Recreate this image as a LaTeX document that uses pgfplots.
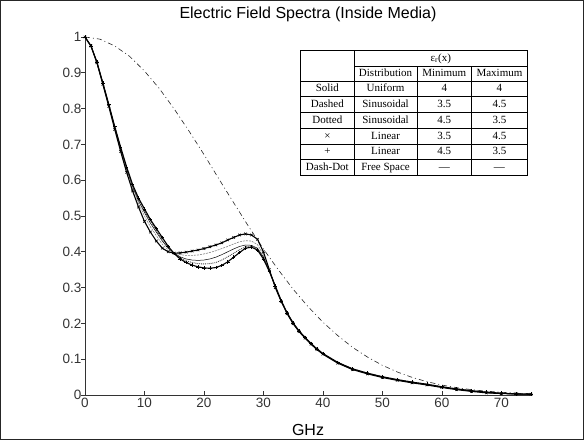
\documentclass[border=0pt]{standalone}
\usepackage{pgfplots}
\pgfplotsset{compat=1.18}
\usepackage{pgfplotstable}
\usepackage{fontspec}
\usepackage{array}
\setmainfont{Liberation Sans}
\newfontfamily\tablefont{Liberation Serif}

\pgfplotstableread{
x p c d s o
0 1.000 1.000 1.000 1.000 1.000
1 0.975 0.975 0.975 0.975 0.975
2 0.930 0.928 0.929 0.930 0.930
3 0.872 0.868 0.870 0.871 0.871
4 0.812 0.806 0.809 0.810 0.811
5 0.750 0.742 0.746 0.748 0.749
6 0.692 0.680 0.686 0.688 0.690
7 0.637 0.622 0.629 0.632 0.635
8 0.588 0.570 0.577 0.582 0.585
9 0.550 0.525 0.535 0.542 0.546
10 0.520 0.485 0.500 0.510 0.515
11 0.490 0.455 0.470 0.480 0.485
12 0.465 0.430 0.445 0.455 0.460
13 0.440 0.410 0.421 0.430 0.435
14 0.415 0.400 0.405 0.410 0.412
15 0.395 0.396 0.396 0.396 0.396
16 0.380 0.397 0.392 0.386 0.383
17 0.370 0.399 0.390 0.380 0.375
18 0.363 0.402 0.390 0.377 0.370
19 0.358 0.405 0.391 0.376 0.367
20 0.355 0.409 0.394 0.377 0.366
21 0.354 0.414 0.398 0.380 0.367
22 0.356 0.419 0.403 0.385 0.370
23 0.362 0.425 0.409 0.392 0.377
24 0.372 0.433 0.415 0.400 0.386
25 0.385 0.440 0.422 0.408 0.396
26 0.398 0.447 0.428 0.415 0.406
27 0.410 0.450 0.431 0.419 0.414
28 0.413 0.447 0.430 0.418 0.416
29 0.405 0.435 0.420 0.410 0.408
30 0.380 0.400 0.392 0.386 0.383
31 0.345 0.350 0.348 0.347 0.346
32 0.305 0.300 0.302 0.303 0.304
33 0.263 0.261 0.262 0.262 0.263
34 0.229 0.227 0.228 0.228 0.229
35 0.201 0.199 0.200 0.200 0.201
36 0.179 0.177 0.178 0.178 0.179
37 0.161 0.159 0.160 0.160 0.161
38 0.144 0.142 0.143 0.143 0.144
39 0.129 0.127 0.128 0.128 0.129
40 0.116 0.114 0.115 0.115 0.116
42.5 0.091 0.089 0.090 0.090 0.091
45 0.073 0.071 0.072 0.072 0.073
47.5 0.061 0.059 0.060 0.060 0.061
50 0.051 0.049 0.050 0.050 0.051
52.5 0.043 0.041 0.042 0.042 0.043
55 0.036 0.034 0.035 0.035 0.036
57.5 0.030 0.028 0.029 0.029 0.030
60 0.023 0.021 0.022 0.022 0.023
62.5 0.017 0.015 0.016 0.016 0.017
65 0.012 0.010 0.011 0.011 0.012
67.5 0.008 0.006 0.007 0.007 0.008
70 0.005 0.004 0.004 0.004 0.005
72.5 0.003 0.003 0.003 0.003 0.003
75 0.002 0.002 0.002 0.002 0.002
}\media

\pgfplotstableread{
x y
0 1.000
2.5 0.994
5 0.975
7.5 0.946
10 0.905
12.5 0.856
15 0.799
17.5 0.737
20 0.672
22.5 0.604
25 0.537
27.5 0.471
30 0.408
32.5 0.350
35 0.2955
37.5 0.247
40 0.2035
42.5 0.166
45 0.133
47.5 0.106
50 0.083
52.5 0.0644
55 0.0493
57.5 0.0372
60 0.0278
62.5 0.0205
65 0.0149
67.5 0.0107
70 0.0076
72.5 0.0053
75 0.0037
}\freespace

\begin{document}
\begin{tikzpicture}
\useasboundingbox (-85pt,-46pt) rectangle (499pt,395pt);
\draw[line width=1pt, black!85] (-84pt,-45pt) rectangle (498pt,394pt);
\begin{axis}[
  at={(0pt,0pt)}, anchor=south west,
  scale only axis, width=446pt, height=358pt,
  xmin=0, xmax=75, ymin=0, ymax=1,
  axis lines=left,
  axis line style={-, black!80, line width=0.6pt},
  xtick={0,10,20,30,40,50,60,70},
  ytick={0,0.1,0.2,0.3,0.4,0.5,0.6,0.7,0.8,0.9,1},
  yticklabels={0,0.1,0.2,0.3,0.4,0.5,0.6,0.7,0.8,0.9,1},
  tick align=inside, major tick length=4pt,
  tick style={black!80, line width=0.6pt},
  y tick style={xshift=-4pt},
  tick label style={font=\fontsize{13.5}{14}\selectfont, text=black!80},
  /pgf/number format/assume math mode=true,
  xlabel={GHz},
  xlabel style={font=\fontsize{16}{18}\selectfont, at={(axis description cs:0.5,0)}, anchor=base, yshift=-41pt},
  title={Electric Field Spectra (Inside Media)},
  title style={font=\fontsize{16}{18}\selectfont, at={(axis description cs:0.5,1)}, anchor=base, yshift=12pt},
  clip=false,
]
\addplot[black!85, line width=0.6pt, dash pattern=on 5pt off 3pt on 1pt off 3pt] table[x=x,y=y]{\freespace};
\addplot[black, line width=0.5pt] table[x=x,y=s]{\media};
\addplot[gray, line width=0.6pt, dash pattern=on 2pt off 1pt] table[x=x,y=d]{\media};
\addplot[black!75, line width=0.9pt, densely dotted] table[x=x,y=o]{\media};
\addplot[black, line width=1.1pt, mark=x, mark size=1.8pt, mark options={line width=0.6pt}] table[x=x,y=c]{\media};
\addplot[black, line width=1.1pt, mark=+, mark size=1.8pt, mark options={line width=0.6pt}] table[x=x,y=p]{\media};
\node[anchor=north east, inner sep=0pt, fill=white] at (rel axis cs:0.993,0.964) {\tablefont\fontsize{11}{15}\selectfont
\setlength\tabcolsep{0pt}\setlength\arrayrulewidth{0.7pt}%
\begin{tabular}{|>{\centering\arraybackslash}p{53pt}|>{\centering\arraybackslash}p{62pt}|>{\centering\arraybackslash}p{54pt}|>{\centering\arraybackslash}p{55pt}|}
\hline
 & \multicolumn{3}{c|}{ε\textsubscript{r}(x)}\\ \cline{2-4}
 & Distribution & Minimum & Maximum\\ \hline
Solid & Uniform & 4 & 4\\ \hline
Dashed & Sinusoidal & 3.5 & 4.5\\ \hline
Dotted & Sinusoidal & 4.5 & 3.5\\ \hline
× & Linear & 3.5 & 4.5\\ \hline
+ & Linear & 4.5 & 3.5\\ \hline
Dash-Dot & Free Space & — & —\\ \hline
\end{tabular}};
\end{axis}
\end{tikzpicture}
\end{document}
